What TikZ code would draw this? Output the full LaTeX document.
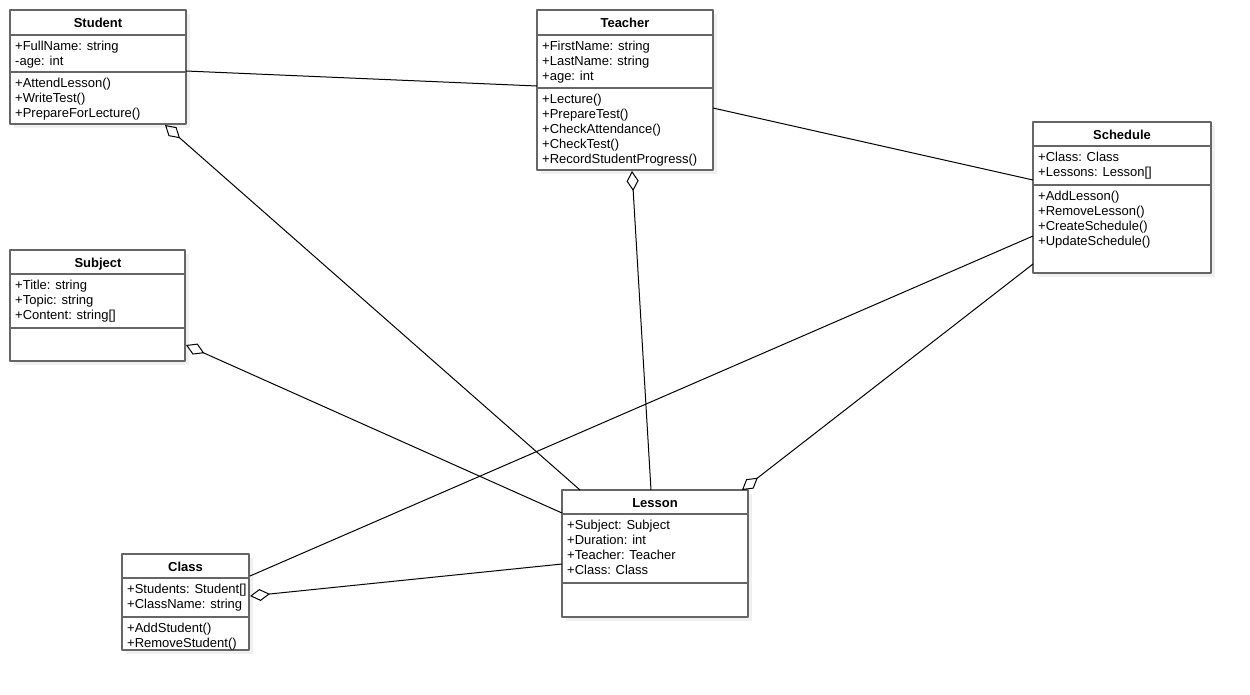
\documentclass[tikz,border=0pt]{standalone}
\usepackage{fontspec}
\setmainfont{Liberation Sans}
\usetikzlibrary{arrows.meta,calc,shadows}

\tikzset{
  classbox/.style={draw=black!60,line width=2pt,fill=white,anchor=north west,
    outer sep=0pt,inner sep=0pt,
    drop shadow={shadow xshift=4pt,shadow yshift=-4pt,fill=black!6,opacity=1}},
  divider/.style={draw=black!60,line width=2pt},
  title/.style={anchor=base,inner sep=0pt,font=\fontsize{13}{15}\selectfont\bfseries},
  member/.style={anchor=base west,inner sep=0pt,font=\fontsize{13}{15}\selectfont},
  assoc/.style={black,line width=1pt},
  aggr/.style={assoc,{Diamond[open,length=20pt,width=12pt]}-}
}

\begin{document}
\begin{tikzpicture}[x=1pt,y=-1pt,line join=round]
  \fill[white] (0,0) rectangle (1250,694);
  \useasboundingbox (0,0) rectangle (1250,694);

  % class boxes
  \node[classbox,minimum width=176pt,minimum height=114pt] (student) at (10,10) {};
  \node[classbox,minimum width=176pt,minimum height=160pt] (teacher) at (537,10) {};
  \node[classbox,minimum width=178pt,minimum height=151pt] (schedule) at (1033,122) {};
  \node[classbox,minimum width=175pt,minimum height=111pt] (subject) at (10,250) {};
  \node[classbox,minimum width=186pt,minimum height=127pt] (lesson) at (562,490) {};
  \node[classbox,minimum width=127pt,minimum height=96pt] (class) at (122,554) {};

  % compartments
  \draw[divider] (10,34.5) -- (186,34.5);
  \draw[divider] (10,72) -- (186,72);
  \draw[divider] (537,34.5) -- (713,34.5);
  \draw[divider] (537,88) -- (713,88);
  \draw[divider] (1033,146) -- (1211,146);
  \draw[divider] (1033,185) -- (1211,185);
  \draw[divider] (10,274) -- (185,274);
  \draw[divider] (10,328) -- (185,328);
  \draw[divider] (562,514) -- (748,514);
  \draw[divider] (562,583) -- (748,583);
  \draw[divider] (122,578) -- (249,578);
  \draw[divider] (122,617) -- (249,617);

  % Student
  \node[title] (stu-t) at (98,27) {Student};
  \node[member] (stu-a1) at (15,50) {+FullName: string};
  \node[member] (stu-a2) at (15,65) {-age: int};
  \node[member] (stu-m1) at (15,87.5) {+AttendLesson()};
  \node[member] (stu-m2) at (15,102.5) {+WriteTest()};
  \node[member] (stu-m3) at (15,117.5) {+PrepareForLecture()};

  % Teacher
  \node[title] (tea-t) at (625,27) {Teacher};
  \node[member] (tea-a1) at (542,50) {+FirstName: string};
  \node[member] (tea-a2) at (542,65) {+LastName: string};
  \node[member] (tea-a3) at (542,80) {+age: int};
  \node[member] (tea-m1) at (542,103.5) {+Lecture()};
  \node[member] (tea-m2) at (542,118.5) {+PrepareTest()};
  \node[member] (tea-m3) at (542,133.5) {+CheckAttendance()};
  \node[member] (tea-m4) at (542,148.5) {+CheckTest()};
  \node[member] (tea-m5) at (542,163.5) {+RecordStudentProgress()};

  % Schedule
  \node[title] (sch-t) at (1122,139) {Schedule};
  \node[member] (sch-a1) at (1038,161.5) {+Class: Class};
  \node[member] (sch-a2) at (1038,176.5) {+Lessons: Lesson[]};
  \node[member] (sch-m1) at (1038,200.5) {+AddLesson()};
  \node[member] (sch-m2) at (1038,215.5) {+RemoveLesson()};
  \node[member] (sch-m3) at (1038,230.5) {+CreateSchedule()};
  \node[member] (sch-m4) at (1038,245.5) {+UpdateSchedule()};

  % Subject
  \node[title] (sub-t) at (98,267) {Subject};
  \node[member] (sub-a1) at (15,289.5) {+Title: string};
  \node[member] (sub-a2) at (15,304.5) {+Topic: string};
  \node[member] (sub-a3) at (15,319.5) {+Content: string[]};

  % Lesson
  \node[title] (les-t) at (655,507) {Lesson};
  \node[member] (les-a1) at (567,529.5) {+Subject: Subject};
  \node[member] (les-a2) at (567,544.5) {+Duration: int};
  \node[member] (les-a3) at (567,559.5) {+Teacher: Teacher};
  \node[member] (les-a4) at (567,574.5) {+Class: Class};

  % Class
  \node[title] (cla-t) at (185.5,571) {Class};
  \node[member] (cla-a1) at (127,593.5) {+Students: Student[]};
  \node[member] (cla-a2) at (127,608.5) {+ClassName: string};
  \node[member] (cla-m1) at (127,632.5) {+AddStudent()};
  \node[member] (cla-m2) at (127,647.5) {+RemoveStudent()};

  % attachment points
  \coordinate (stuE) at ($(student.north east)+(0,61)$);
  \coordinate (stuS) at ($(student.south west)+(155,1)$);
  \coordinate (teaW) at ($(teacher.north west)+(0,76)$);
  \coordinate (teaE) at ($(teacher.north east)+(0,98)$);
  \coordinate (teaS) at ($(teacher.south west)+(95,1)$);
  \coordinate (schW1) at ($(schedule.north west)+(0,58)$);
  \coordinate (schW2) at ($(schedule.north west)+(0,114)$);
  \coordinate (schW3) at ($(schedule.north west)+(0,142)$);
  \coordinate (subE) at ($(subject.north east)+(1,95)$);
  \coordinate (lesN1) at ($(lesson.north west)+(18,0)$);
  \coordinate (lesN2) at ($(lesson.north west)+(89,0)$);
  \coordinate (lesN3) at ($(lesson.north west)+(180,0)$);
  \coordinate (lesW1) at ($(lesson.north west)+(0,23)$);
  \coordinate (lesW2) at ($(lesson.north west)+(0,74)$);
  \coordinate (claE1) at ($(class.north east)+(1,22)$);
  \coordinate (claE2) at ($(class.north east)+(1,42)$);

  % relations
  \draw[assoc] (stuE) -- (teaW);
  \draw[assoc] (teaE) -- (schW1);
  \draw[assoc] (claE1) -- (schW2);
  \draw[aggr] (stuS) -- (lesN1);
  \draw[aggr] (teaS) -- (lesN2);
  \draw[aggr] (lesN3) -- (schW3);
  \draw[aggr] (subE) -- (lesW1);
  \draw[aggr] (claE2) -- (lesW2);
\end{tikzpicture}
\end{document}
